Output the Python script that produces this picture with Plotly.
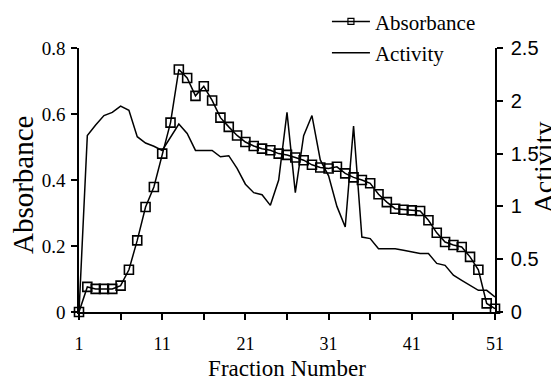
import plotly.graph_objects as go

fractions = list(range(1, 52))
absorbance = [0, 0.076, 0.07, 0.07, 0.07, 0.08, 0.128, 0.217, 0.318, 0.379,
              0.48, 0.574, 0.735, 0.709, 0.655, 0.684, 0.641, 0.589, 0.561, 0.535,
              0.515, 0.503, 0.495, 0.49, 0.48, 0.476, 0.468, 0.46, 0.446, 0.438,
              0.435, 0.44, 0.42, 0.408, 0.4, 0.39, 0.357, 0.333, 0.313, 0.31,
              0.308, 0.306, 0.278, 0.24, 0.212, 0.203, 0.197, 0.167, 0.128, 0.026,
              0.01]
activity = [0, 1.67, 1.77, 1.86, 1.89, 1.95, 1.91, 1.66, 1.60, 1.57,
            1.53, 1.65, 1.78, 1.69, 1.53, 1.53, 1.53, 1.47, 1.48, 1.36,
            1.21, 1.13, 1.11, 1.01, 1.25, 1.89, 1.13, 1.67, 1.86, 1.44,
            1.29, 1.0, 0.805, 1.76, 0.71, 0.695, 0.6, 0.6, 0.6, 0.585,
            0.568, 0.553, 0.553, 0.46, 0.442, 0.348, 0.3, 0.253, 0.205, 0.205,
            0.142]
x_tickvals = [1, 6, 11, 16, 21, 26, 31, 36, 41, 46, 51]
x_ticktext = ["1", "", "11", "", "21", "", "31", "", "41", "", "51"]
left_ticks = [0, 0.2, 0.4, 0.6, 0.8]
left_ticktext = ["0", "0.2", "0.4", "0.6", "0.8"]
right_ticks = [0, 0.5, 1, 1.5, 2, 2.5]
right_ticktext = ["0", "0.5", "1", "1.5", "2", "2.5"]

SERIF = "Liberation Serif, Times New Roman, serif"
SANS = "Liberation Sans, Arial, sans-serif"

fig = go.Figure()
fig.add_trace(go.Scatter(x=fractions, y=activity, mode="lines", yaxis="y2",
                         line=dict(color="black", width=1.5), showlegend=False,
                         cliponaxis=False))
fig.add_trace(go.Scatter(x=fractions, y=absorbance, mode="lines+markers",
                         line=dict(color="black", width=1.5),
                         marker=dict(symbol="square-open", size=9, color="black",
                                     line=dict(width=1.6, color="black")),
                         showlegend=False, cliponaxis=False))
# legend entries
fig.add_trace(go.Scatter(x=[None], y=[None], mode="lines+markers", name="Absorbance",
                         line=dict(color="black", width=1.5), legendgroup="a",
                         marker=dict(symbol="square-open", size=6, color="black",
                                     line=dict(width=1.2, color="black"))))
fig.add_trace(go.Scatter(x=[None], y=[None], mode="lines", name="Activity",
                         legendgroup="b", line=dict(color="black", width=1.5)))

axis_common = dict(showgrid=False, zeroline=False, linecolor="black", linewidth=1.5,
                   tickcolor="black", tickwidth=1.5, ticklen=6)

# the page body adds an 8px offset, so the figure is 8px smaller on each axis
fig.update_layout(
    width=551, height=373,
    margin=dict(l=71, r=64, t=40, b=69, autoexpand=False),
    plot_bgcolor="white", paper_bgcolor="white",
    xaxis=dict(range=[1, 51], tickvals=x_tickvals, ticktext=x_ticktext,
               ticks="outside", showline=True, ticklabelstandoff=9,
               tickfont=dict(family=SERIF, size=18, color="black"),
               title=dict(text="Fraction Number", standoff=7,
                          font=dict(family=SERIF, size=23, color="black")),
               **axis_common),
    yaxis=dict(range=[0, 0.8], tickvals=left_ticks, ticktext=left_ticktext,
               ticks="outside", showline=True, ticklabelstandoff=2,
               tickfont=dict(family=SERIF, size=19, color="black"),
               **axis_common),
    yaxis2=dict(range=[0, 2.5], tickvals=right_ticks, ticktext=right_ticktext,
                overlaying="y", side="right", anchor="x",
                ticks="outside", showline=True, ticklabelstandoff=4,
                tickfont=dict(family=SANS, size=20, color="black"),
                **axis_common),
    xaxis3=dict(range=[1, 51], tickvals=x_tickvals, overlaying="x", anchor="y",
                ticks="inside", showticklabels=False, showline=False, **axis_common),
    yaxis3=dict(range=[0, 0.8], tickvals=left_ticks, overlaying="y", anchor="x",
                ticks="inside", showticklabels=False, showline=False, **axis_common),
    yaxis4=dict(range=[0, 2.5], tickvals=right_ticks, overlaying="y", side="right",
                anchor="x", ticks="inside", showticklabels=False, showline=False,
                **axis_common),
    legend=dict(x=0.596, y=1.177, xanchor="left", yanchor="top", tracegroupgap=1,
                bgcolor="rgba(0,0,0,0)", itemwidth=38,
                font=dict(family=SERIF, size=21, color="black")),
    annotations=[
        dict(text="Absorbance", textangle=-90, xref="paper", yref="paper",
             x=-0.135, y=0.484, xanchor="center", yanchor="middle",
             showarrow=False, font=dict(family=SERIF, size=29, color="black")),
        dict(text="Activity", textangle=-90, xref="paper", yref="paper",
             x=1.074, y=0.549, xanchor="left", yanchor="middle",
             showarrow=False, font=dict(family=SERIF, size=28, color="black")),
    ],
)

fig.write_html("out.html")
